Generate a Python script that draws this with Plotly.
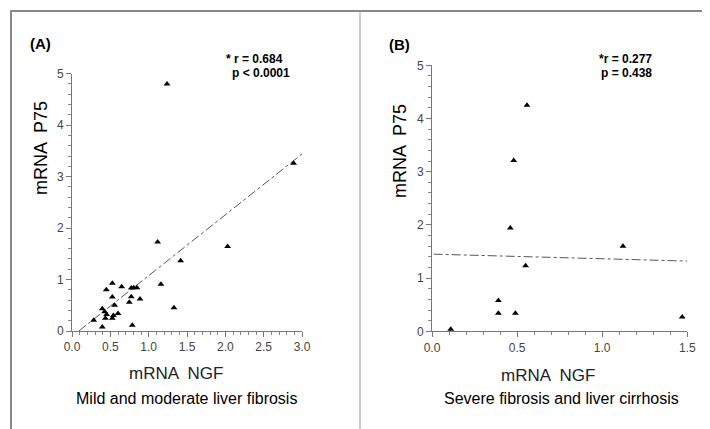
import plotly.graph_objects as go

# Panel A: mild and moderate liver fibrosis
ngf_a = [1.117, 2.03, 1.417, 1.16, 1.33, 0.526, 0.447, 0.648, 0.773, 0.804, 0.847,
         0.526, 0.773, 0.747, 0.887, 0.556, 0.395, 0.426, 0.452, 0.435, 0.526, 0.54,
         0.60, 0.283, 0.395, 0.786, 1.239, 2.89]
p75_a = [1.73, 1.64, 1.365, 0.91, 0.45, 0.93, 0.80, 0.86, 0.835, 0.84, 0.84,
         0.66, 0.666, 0.56, 0.62, 0.50, 0.43, 0.375, 0.32, 0.25, 0.25, 0.30,
         0.34, 0.21, 0.08, 0.11, 4.80, 3.26]
fit_a_x = [0.09, 3.0]
fit_a_y = [0.0, 3.44]

# Panel B: severe fibrosis and liver cirrhosis
ngf_b = [0.558, 0.48, 0.46, 1.122, 0.55, 0.39, 0.39, 0.49, 1.47, 0.11]
p75_b = [4.25, 3.21, 1.94, 1.60, 1.23, 0.58, 0.34, 0.34, 0.27, 0.04]
fit_b_x = [0.01, 1.5]
fit_b_y = [1.45, 1.32]

W, H = 710, 429
def px(x): return x / W
def py(y): return 1 - y / H

fig = go.Figure()
mk = dict(symbol="triangle-up", size=6, color="black")
fig.add_trace(go.Scatter(x=fit_a_x, y=fit_a_y, mode="lines",
                         line=dict(color="#555", width=1, dash="dashdot"),
                         xaxis="x", yaxis="y", showlegend=False, hoverinfo="skip"))
fig.add_trace(go.Scatter(x=ngf_a, y=p75_a, mode="markers", marker=mk,
                         xaxis="x", yaxis="y", showlegend=False))
fig.add_trace(go.Scatter(x=fit_b_x, y=fit_b_y, mode="lines",
                         line=dict(color="#555", width=1, dash="dashdot"),
                         xaxis="x2", yaxis="y2", showlegend=False, hoverinfo="skip"))
fig.add_trace(go.Scatter(x=ngf_b, y=p75_b, mode="markers", marker=mk,
                         xaxis="x2", yaxis="y2", showlegend=False))

tickfont = dict(family="Liberation Sans, Arial, sans-serif", size=12, color="#444")
common = dict(showline=True, linecolor="#777", linewidth=1, showgrid=False, zeroline=False,
              ticks="outside", ticklen=5, tickcolor="#777", tickfont=tickfont, fixedrange=True,
              automargin=False)
minor = dict(ticks="outside", ticklen=3, tickcolor="#888")

fig.update_layout(
    template="none",
    width=W, height=H, margin=dict(l=0, r=0, t=0, b=0), autosize=False,
    paper_bgcolor="white", plot_bgcolor="white",
    xaxis=dict(domain=[px(64), px(294)], range=[0, 3], dtick=0.5, tickformat=".1f",
               anchor="y", minor=dict(dtick=0.1, **minor), **common),
    yaxis=dict(domain=[py(323), py(65.7)], range=[0, 5], dtick=1,
               anchor="x", minor=dict(dtick=0.2, **minor), **common),
    xaxis2=dict(domain=[px(424), px(679.3)], range=[0, 1.5], dtick=0.5, tickformat=".1f",
                anchor="y2", minor=dict(dtick=0.1, **minor), **common),
    yaxis2=dict(domain=[py(323.3), py(57.3)], range=[0, 5], dtick=1,
                anchor="x2", minor=dict(dtick=0.2, **minor), **common),
)

def txt(x, y, s, size=13, bold=False, angle=0, family="Liberation Sans, Arial, sans-serif",
        xanchor="center", color="black"):
    fig.add_annotation(x=px(x), y=py(y), xref="paper", yref="paper", text=f"<b>{s}</b>" if bold else s,
                       showarrow=False, textangle=angle, xanchor=xanchor, yanchor="middle",
                       font=dict(family=family, size=size, color=color))

# Panel A texts
txt(20, 35, "(A)", size=15, bold=True, xanchor="left")
txt(216, 51, "* r = 0.684", size=12, bold=True, xanchor="left")
txt(222, 65, "p < 0.0001", size=12, bold=True, xanchor="left")
txt(33, 140, "mRNA  P75", size=18, angle=-90)
txt(168, 365, "mRNA  NGF", size=17, color="#222")
txt(178, 390, "Mild and moderate liver fibrosis", size=16)

# Panel B texts
txt(379, 37, "(B)", size=15, bold=True, xanchor="left")
txt(589, 51, "*r = 0.277", size=12, bold=True, xanchor="left")
txt(591, 65, "p = 0.438", size=12, bold=True, xanchor="left")
txt(392, 143, "mRNA  P75", size=18, angle=-90)
txt(540, 367, "mRNA  NGF", size=17, color="#222")
txt(553, 390, "Severe fibrosis and liver cirrhosis", size=16)

# Frame and divider
fig.add_shape(type="rect", xref="paper", yref="paper", x0=px(3), x1=px(707), y0=py(424), y1=py(3),
              line=dict(color="#888", width=2))
fig.add_shape(type="line", xref="paper", yref="paper", x0=px(352), x1=px(352), y0=py(424), y1=py(3),
              line=dict(color="#999", width=1))

fig.write_html("out.html")
